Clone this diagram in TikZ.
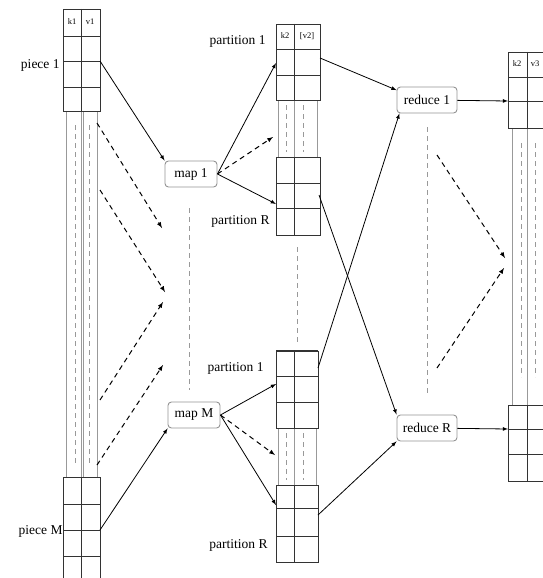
\documentclass[tikz,border=0pt]{standalone}
\usepackage{fontspec}
\setmainfont{Liberation Serif}
\usetikzlibrary{arrows}

\begin{document}
\begin{tikzpicture}[x=1pt,y=-1pt,>=latex,thick,
  task node/.style={draw=gray!85,rounded corners=3.5pt,line width=0.9pt,inner xsep=3pt,
    minimum height=26pt,font=\fontsize{13.5}{14}\selectfont},
  name node/.style={anchor=east,inner sep=0pt,font=\fontsize{13.5}{14}\selectfont},
  head node/.style={inner sep=0pt,font=\fontsize{8.5}{9}\selectfont},
  cell/.style={draw=black!80,line width=0.7pt},
  strip/.style={draw=gray!80,line width=0.7pt},
  dots/.style={draw=gray!80,dashed,line width=0.7pt,dash pattern=on 5pt off 4pt},
  flow/.style={->,line width=0.8pt},
  maybe/.style={->,line width=1pt,dash pattern=on 5pt off 4pt}]

  \useasboundingbox (0,0) rectangle (543,578);
  \clip (0,0) rectangle (543,578);

  % input file, cut into pieces
  \foreach \x in {66,81,83,97}
    \draw[strip] (\x,9) -- (\x,590);
  \foreach \x in {75,89}
    \draw[dots] (\x,125) -- (\x,465);
  \draw[cell,fill=white] (63,9) rectangle (100,111);
  \foreach \y in {36,61,87}
    \draw[cell] (63,\y) -- (100,\y);
  \draw[cell] (81,9) -- (81,111);
  \draw[cell,fill=white] (63,477) rectangle (100,590);
  \foreach \y in {504,530,556}
    \draw[cell] (63,\y) -- (100,\y);
  \draw[cell] (81,477) -- (81,590);
  \node[head node] (k1) at (72,22) {k1};
  \node[head node] (v1) at (90,22) {v1};
  \node[name node] (piece1) at (60,65) {piece 1};
  \node[name node] (pieceM) at (63,531) {piece M};

  % partitions written by map 1
  \foreach \x in {278,294,317}
    \draw[strip] (\x,24) -- (\x,235);
  \foreach \x in {286,303}
    \draw[dots] (\x,105) -- (\x,152);
  \draw[cell,fill=white] (276,24) rectangle (320,100);
  \foreach \y in {49,75}
    \draw[cell] (276,\y) -- (320,\y);
  \draw[cell] (294,24) -- (294,100);
  \draw[cell,fill=white] (276,157) rectangle (320,235);
  \foreach \y in {183,208}
    \draw[cell] (276,\y) -- (320,\y);
  \draw[cell] (294,157) -- (294,235);
  \node[head node] (k2a) at (285,36) {k2};
  \node[head node] (v2a) at (307,36) {[v2]};
  \node[name node] (part1a) at (266,41) {partition 1};
  \node[name node] (partRa) at (270,221) {partition R};

  % partitions written by map M
  \foreach \x in {278,294,316}
    \draw[strip] (\x,351) -- (\x,562);
  \foreach \x in {286,303}
    \draw[dots] (\x,433) -- (\x,480);
  \draw[cell,fill=white] (276,351) rectangle (318,428);
  \draw[cell,line width=1.2pt] (276,351) -- (318,351);
  \foreach \y in {376,402}
    \draw[cell] (276,\y) -- (318,\y);
  \draw[cell] (294,351) -- (294,428);
  \draw[cell,fill=white] (276,485) rectangle (318,562);
  \foreach \y in {508,536}
    \draw[cell] (276,\y) -- (318,\y);
  \draw[cell] (294,485) -- (294,562);
  \node[name node] (part1b) at (264,368) {partition 1};
  \node[name node] (partRb) at (268,545) {partition R};

  % output file
  \foreach \x in {512,527,544}
    \draw[strip] (\x,52) -- (\x,481);
  \foreach \x in {521,535}
    \draw[dots] (\x,143) -- (\x,377);
  \draw[cell,fill=white] (508,52) rectangle (550,128);
  \foreach \y in {77,101}
    \draw[cell] (508,\y) -- (550,\y);
  \draw[cell] (527,52) -- (527,128);
  \draw[cell,fill=white] (508,405) rectangle (550,481);
  \foreach \y in {429,454}
    \draw[cell] (508,\y) -- (550,\y);
  \draw[cell] (527,405) -- (527,481);
  \node[head node] (k2c) at (517,64) {k2};
  \node[head node] (v3) at (535,64) {v3};

  % tasks
  \node[task node,minimum width=52pt] (map1) at (191,174) {map 1};
  \node[task node,minimum width=52pt] (mapM) at (194,415) {map M};
  \node[task node,minimum width=60pt] (red1) at (427,100) {reduce 1};
  \node[task node,minimum width=60pt] (redR) at (427,428) {reduce R};

  \draw[dots] (189,208) -- (189,390);
  \draw[dots] (297,247) -- (297,343);
  \draw[dots] (427,127) -- (427,395);

  % connector ends on the columns
  \coordinate (in1) at (100,61);
  \coordinate (inM) at (100,530);
  \coordinate (ia) at (97,123);  \coordinate (ib) at (162,228);
  \coordinate (ic) at (100,190); \coordinate (id) at (165,292);
  \coordinate (ie) at (100,400); \coordinate (if) at (163,302);
  \coordinate (ig) at (97,465);  \coordinate (ih) at (163,365);
  \coordinate (a1) at (276,63);
  \coordinate (a2) at (273,137);
  \coordinate (a3) at (276,204);
  \coordinate (b1) at (276,384);
  \coordinate (b2) at (275,455);
  \coordinate (b3) at (276,505);
  \coordinate (o1a) at (320,58);
  \coordinate (oRa) at (319,195);
  \coordinate (o1b) at (318,368);
  \coordinate (oRb) at (318,515);
  \coordinate (out1) at (508,101);
  \coordinate (outR) at (508,429);
  \coordinate (ra) at (437,155); \coordinate (rb) at (505,258);
  \coordinate (rc) at (437,368); \coordinate (rd) at (504,268);

  \path[flow]
  (in1)  edge (map1.north west)
  (inM)  edge (mapM.south west)
  (map1.east) edge (a1)
              edge (a3)
  (mapM.east) edge (b1)
              edge (b3)
  (o1a)  edge (red1.162)
  (o1b)  edge (red1.206)
  (oRa)  edge (redR.north west)
  (oRb)  edge (redR.south west)
  (red1) edge (out1)
  (redR) edge (outR);

  \path[maybe]
  (ia) edge (ib)
  (ic) edge (id)
  (ie) edge (if)
  (ig) edge (ih)
  (map1.east) edge (a2)
  (mapM.east) edge (b2)
  (ra) edge (rb)
  (rc) edge (rd);
\end{tikzpicture}
\end{document}
